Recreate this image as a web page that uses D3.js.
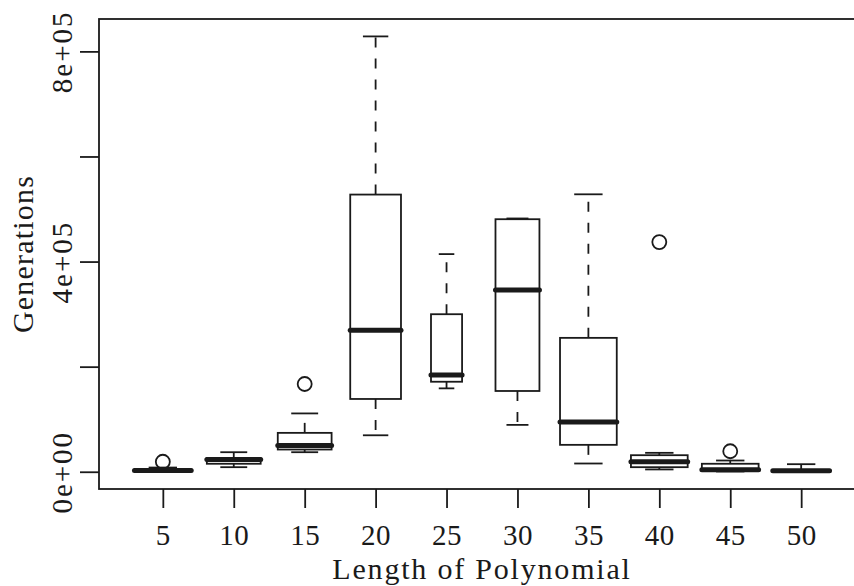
<!DOCTYPE html>
<html>
<head>
<meta charset="utf-8">
<script src="https://cdn.jsdelivr.net/npm/d3@7"></script>
<style>
    body { margin: 0; background: #fff; }
    text { font-family: "Liberation Serif", "Times New Roman", serif; fill: #1a1a1a; }
</style>
</head>
<body>
<div id="chart"></div>
<script>
// Box statistics per polynomial length
const categories = ["5", "10", "15", "20", "25", "30", "35", "40", "45", "50"];
const counts     = [10, 9, 9, 8, 3, 6, 10, 10, 10, 10];
const whiskerLow = [300, 8700, 37200, 69400, 158700, 89200, 15700, 4400, 500, 300];
const q1         = [1000, 15200, 42300, 138500, 171300, 153700, 51200, 8700, 2500, 1000];
const median     = [2500, 23300, 50000, 269400, 184000, 345900, 94900, 19000, 3800, 2000];
const q3         = [4000, 25800, 74000, 527500, 299800, 480600, 254800, 31500, 15200, 3500];
const whiskerHigh = [8000, 37200, 111000, 828500, 414200, 482000, 528000, 36000, 21400, 14400];

const outlierCats   = ["5", "15", "40", "45"];
const outlierValues = [19000, 167000, 437000, 39000];

const yTicks      = [0, 200000, 400000, 600000, 800000];
const yTickLabels = ["0e+00", "", "4e+05", "", "8e+05"];

const xTitle = "Length of Polynomial";
const yTitle = "Generations";

const width = 854, height = 586;
const margin = { top: 19, right: -11, bottom: 97, left: 99 };
const tickFont = 29, titleFont = 30;
const ink = "#1a1a1a";

const boxes = categories.map((c, i) => ({
    key: c, n: counts[i],
    lo: whiskerLow[i], q1: q1[i], med: median[i], q3: q3[i], hi: whiskerHigh[i]
}));
const outliers = outlierCats.map((c, i) => ({ key: c, value: outlierValues[i] }));

const svg = d3.select("#chart").append("svg")
    .attr("width", width)
    .attr("height", height);

// Scales (R style: 4% padding on the y range)
const x = d3.scalePoint()
    .domain(categories)
    .range([margin.left, width - margin.right])
    .padding(0.9);

const allVals = whiskerLow.concat(whiskerHigh, outlierValues);
const yMin = d3.min(allVals), yMax = d3.max(allVals);
const pad = (yMax - yMin) * 0.04;
const y = d3.scaleLinear()
    .domain([yMin - pad, yMax + pad])
    .range([height - margin.bottom, margin.top]);

const maxN = d3.max(counts);
const halfW = d => 0.4 * x.step() * Math.sqrt(d.n / maxN);

// Axes
const tickLen = 19;
const xAxis = svg.append("g")
    .attr("transform", `translate(0, ${height - margin.bottom})`)
    .call(d3.axisBottom(x).tickSize(tickLen));
xAxis.select(".domain").remove();
xAxis.selectAll("line").attr("stroke", ink).attr("stroke-width", 1.8);
xAxis.selectAll("text")
    .attr("y", 56).attr("dy", 0)
    .attr("font-size", tickFont)
    .attr("letter-spacing", 0.5)
    .attr("font-family", null)
    .attr("fill", ink);

const yAxis = svg.append("g")
    .attr("transform", `translate(${margin.left}, 0)`)
    .call(d3.axisLeft(y).tickValues(yTicks).tickSize(tickLen).tickFormat((d, i) => yTickLabels[i]));
yAxis.select(".domain").remove();
yAxis.selectAll("line").attr("stroke", ink).attr("stroke-width", 1.8);
yAxis.selectAll("text")
    .attr("x", 0).attr("y", -27).attr("dy", 0)
    .attr("transform", "rotate(-90)")
    .attr("text-anchor", "middle")
    .attr("font-size", tickFont)
    .attr("letter-spacing", 2)
    .attr("font-family", null)
    .attr("fill", ink);

// Whiskers
const g = svg.append("g");
const box = g.selectAll(".box").data(boxes).enter().append("g").attr("class", "box");

box.append("line")
    .attr("x1", d => x(d.key)).attr("x2", d => x(d.key))
    .attr("y1", d => y(d.q3)).attr("y2", d => y(d.hi))
    .attr("stroke", ink).attr("stroke-width", 1.8).attr("stroke-dasharray", "10,11");
box.append("line")
    .attr("x1", d => x(d.key)).attr("x2", d => x(d.key))
    .attr("y1", d => y(d.q1)).attr("y2", d => y(d.lo))
    .attr("stroke", ink).attr("stroke-width", 1.8).attr("stroke-dasharray", "10,11");

// Staples
["lo", "hi"].forEach(k => {
    box.append("line")
        .attr("x1", d => x(d.key) - halfW(d) / 2).attr("x2", d => x(d.key) + halfW(d) / 2)
        .attr("y1", d => y(d[k])).attr("y2", d => y(d[k]))
        .attr("stroke", ink).attr("stroke-width", 1.8);
});

// Boxes
box.append("rect")
    .attr("x", d => x(d.key) - halfW(d))
    .attr("width", d => 2 * halfW(d))
    .attr("y", d => y(d.q3))
    .attr("height", d => y(d.q1) - y(d.q3))
    .attr("fill", "#fff")
    .attr("stroke", ink).attr("stroke-width", 1.8);

// Medians
box.append("line")
    .attr("x1", d => x(d.key) - halfW(d)).attr("x2", d => x(d.key) + halfW(d))
    .attr("y1", d => y(d.med)).attr("y2", d => y(d.med))
    .attr("stroke", ink).attr("stroke-width", 5).attr("stroke-linecap", "round");

// Outliers
g.selectAll(".outlier").data(outliers).enter().append("circle")
    .attr("class", "outlier")
    .attr("cx", d => x(d.key))
    .attr("cy", d => y(d.value))
    .attr("r", 7)
    .attr("fill", "none")
    .attr("stroke", ink).attr("stroke-width", 1.8);

// Plot frame
svg.append("rect")
    .attr("x", margin.left)
    .attr("y", margin.top)
    .attr("width", width - margin.right - margin.left)
    .attr("height", height - margin.bottom - margin.top)
    .attr("fill", "none")
    .attr("stroke", ink).attr("stroke-width", 1.8);

// Axis titles
svg.append("text")
    .attr("x", (margin.left + width - margin.right) / 2)
    .attr("y", 579)
    .attr("text-anchor", "middle")
    .attr("font-size", titleFont)
    .attr("letter-spacing", 1.8)
    .text(xTitle);

svg.append("text")
    .attr("transform", `translate(33, ${(margin.top + height - margin.bottom) / 2}) rotate(-90)`)
    .attr("text-anchor", "middle")
    .attr("font-size", titleFont)
    .attr("letter-spacing", 1.2)
    .text(yTitle);
</script>
</body>
</html>
